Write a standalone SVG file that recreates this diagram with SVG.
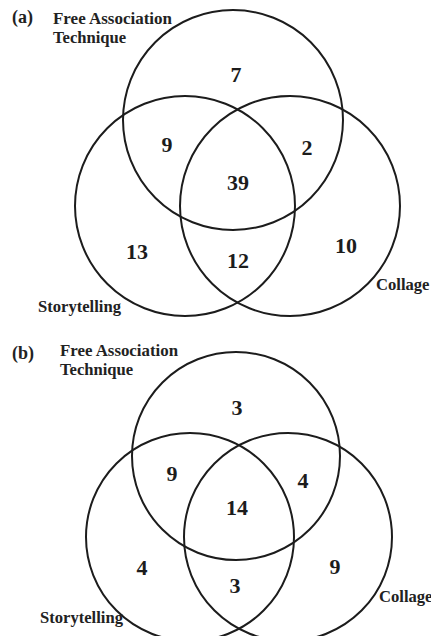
<svg xmlns="http://www.w3.org/2000/svg" width="431" height="636" viewBox="0 0 431 636">
<style>
.c{fill:none;stroke:#1c1c1c;stroke-width:2}
.l{font-family:"Liberation Serif","Times New Roman",serif;font-weight:bold;font-size:16.6px;fill:#222}
.n{font-family:"Liberation Serif","Times New Roman",serif;font-weight:bold;font-size:22px;fill:#1c1c1c;text-anchor:middle}
.p{font-family:"Liberation Serif","Times New Roman",serif;font-weight:bold;font-size:18px;fill:#222}
</style>
<rect width="431" height="636" fill="#fff"/>
<g id="panel-a">
  <text class="p" x="12" y="23">(a)</text>
  <g id="a-free">
    <circle class="c" cx="233" cy="120" r="110"/>
    <text class="l" x="53" y="24" textLength="119" lengthAdjust="spacingAndGlyphs">Free Association</text>
    <text class="l" x="53" y="43">Technique</text>
  </g>
  <g id="a-story">
    <circle class="c" cx="185" cy="206" r="110"/>
    <text class="l" x="38" y="312">Storytelling</text>
  </g>
  <g id="a-collage">
    <circle class="c" cx="290" cy="206" r="110"/>
    <text class="l" x="376" y="290">Collage</text>
  </g>
  <g id="a-counts">
    <text class="n" x="236" y="82">7</text>
    <text class="n" x="167" y="152">9</text>
    <text class="n" x="307" y="155">2</text>
    <text class="n" x="238" y="190">39</text>
    <text class="n" x="137" y="259">13</text>
    <text class="n" x="238" y="268">12</text>
    <text class="n" x="346" y="253">10</text>
  </g>
</g>
<g id="panel-b">
  <text class="p" x="12" y="359">(b)</text>
  <g id="b-free">
    <circle class="c" cx="236" cy="456" r="104"/>
    <text class="l" x="60" y="356" textLength="118" lengthAdjust="spacingAndGlyphs">Free Association</text>
    <text class="l" x="60" y="375">Technique</text>
  </g>
  <g id="b-story">
    <circle class="c" cx="190" cy="537" r="104"/>
    <text class="l" x="40" y="623">Storytelling</text>
  </g>
  <g id="b-collage">
    <circle class="c" cx="288" cy="537" r="104"/>
    <text class="l" x="379" y="602">Collage</text>
  </g>
  <g id="b-counts">
    <text class="n" x="237" y="415">3</text>
    <text class="n" x="172" y="481">9</text>
    <text class="n" x="303" y="488">4</text>
    <text class="n" x="237" y="515">14</text>
    <text class="n" x="142" y="575">4</text>
    <text class="n" x="235" y="593">3</text>
    <text class="n" x="335" y="574">9</text>
  </g>
</g>
<g id="connectors"/>
</svg>
